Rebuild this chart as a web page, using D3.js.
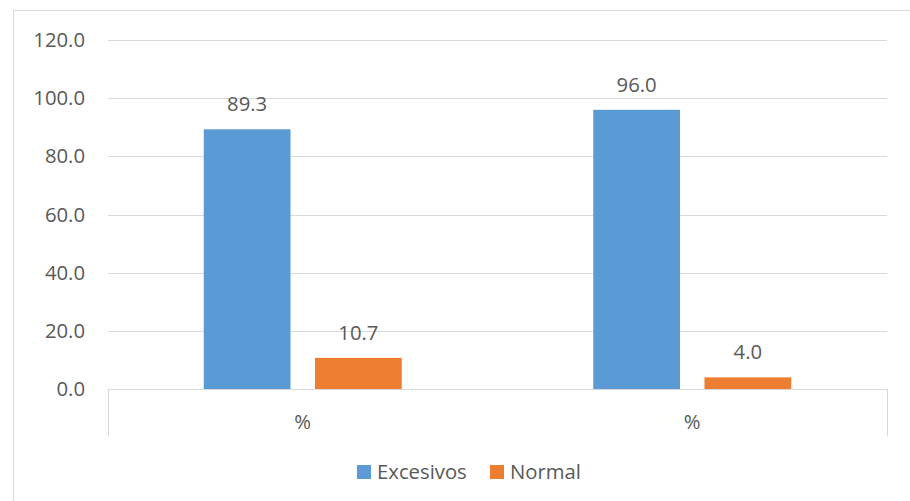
<!DOCTYPE html>
<html><head><meta charset="utf-8">
<script src="https://cdn.jsdelivr.net/npm/d3@7"></script>
<style>body{margin:0;background:#fff}svg{display:block}text{font-family:"Open Sans",sans-serif;fill:#595959}</style>
</head><body><svg id="c" width="910" height="501"></svg>
<script>
const categories = ["%", "%"];
const seriesNames = ["Excesivos", "Normal"];
const excesivos = [89.3, 96.0];
const normal = [10.7, 4.0];
const yTicks = [0, 20, 40, 60, 80, 100, 120];
const colors = ["#5b9bd5", "#ed7d31"];

(function () {
const svg = d3.select("#c");
const fontSize = 20.3;
// outer border
svg.append("rect").attr("x", 13.5).attr("y", 10.5).attr("width", 910).attr("height", 520)
  .attr("fill", "none").attr("stroke", "#d9d9d9").attr("stroke-width", 1);

const pLeft = 108, pRight = 887, pTop = 40, pBottom = 389;
const y = d3.scaleLinear().domain([0, 120]).range([pBottom, pTop]);
const x0 = d3.scaleBand().domain(d3.range(categories.length)).range([pLeft, pRight]).padding(0);
const x1 = d3.scaleBand().domain(seriesNames).range([-99, 99]).paddingInner(0.22);

// gridlines
svg.append("g").selectAll("line").data(yTicks.filter(d => d > 0)).join("line")
  .attr("x1", pLeft).attr("x2", pRight)
  .attr("y1", d => Math.round(y(d)) + 0.5).attr("y2", d => Math.round(y(d)) + 0.5)
  .attr("stroke", "#d9d9d9").attr("stroke-width", 1);

// y labels
svg.append("g").selectAll("text").data(yTicks).join("text")
  .attr("x", 85).attr("y", d => y(d)).attr("dy", "0.35em")
  .attr("text-anchor", "end").attr("font-size", fontSize)
  .text(d => d3.format(".1f")(d));

// bars
const data = categories.map((c, i) => ({i, vals: [excesivos[i], normal[i]]}));
const groups = svg.append("g").selectAll("g").data(data).join("g")
  .attr("transform", d => `translate(${x0(d.i) + x0.bandwidth() / 2},0)`);
groups.selectAll("rect").data(d => d.vals.map((v, k) => ({v, k}))).join("rect")
  .attr("x", d => x1(seriesNames[d.k])).attr("width", x1.bandwidth())
  .attr("y", d => y(d.v)).attr("height", d => y(0) - y(d.v))
  .attr("fill", d => colors[d.k]);
groups.selectAll("text").data(d => d.vals.map((v, k) => ({v, k}))).join("text")
  .attr("x", d => x1(seriesNames[d.k]) + x1.bandwidth() / 2)
  .attr("y", d => y(d.v) - 18)
  .attr("text-anchor", "middle").attr("font-size", fontSize)
  .text(d => d3.format(".1f")(d.v));

// x axis
svg.append("line").attr("x1", pLeft).attr("x2", pRight).attr("y1", pBottom + 0.5).attr("y2", pBottom + 0.5)
  .attr("stroke", "#d9d9d9").attr("stroke-width", 1);
svg.append("g").selectAll("line").data([pLeft, pRight]).join("line")
  .attr("x1", d => d + 0.5).attr("x2", d => d + 0.5).attr("y1", pBottom).attr("y2", 436)
  .attr("stroke", "#d9d9d9").attr("stroke-width", 1);
svg.append("g").selectAll("text").data(categories).join("text")
  .attr("x", (d, i) => x0(i) + x0.bandwidth() / 2).attr("y", 422).attr("dy", "0.35em")
  .attr("text-anchor", "middle").attr("font-size", fontSize).text(d => d);

// legend
const legendPos = [357, 490];
const lg = svg.append("g").selectAll("g").data(seriesNames).join("g")
  .attr("transform", (d, i) => `translate(${legendPos[i]},465)`);
lg.append("rect").attr("width", 14).attr("height", 14).attr("fill", (d, i) => colors[i]);
lg.append("text").attr("x", 20).attr("y", 7).attr("dy", "0.35em").attr("font-size", fontSize).text(d => d);
})();
</script></body></html>
